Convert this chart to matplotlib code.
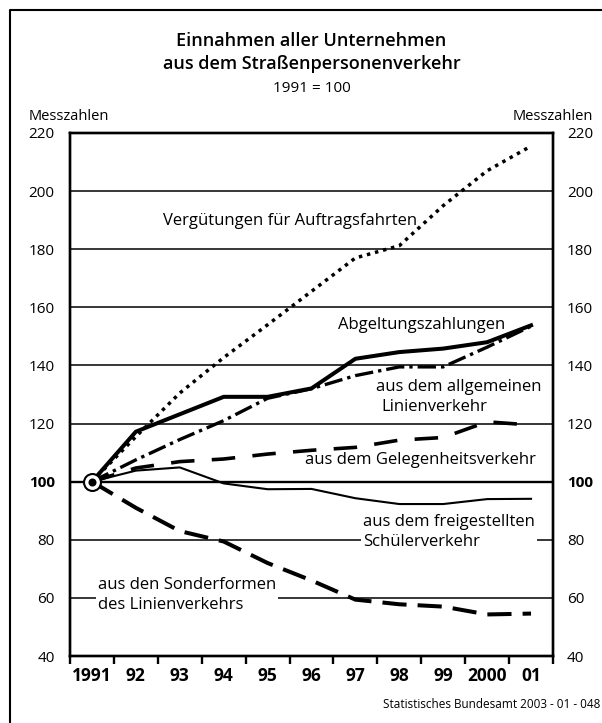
import matplotlib
matplotlib.use('Agg')
import matplotlib.pyplot as plt
from matplotlib.lines import Line2D

plt.rcParams['font.family'] = ['Open Sans', 'DejaVu Sans']

# ---------------- data ----------------
years = ['1991', '92', '93', '94', '95', '96', '97', '98', '99', '2000', '01']
verguetungen = [100, 115.5, 130.5, 142.7, 154, 165.5, 177, 181.2, 195, 207, 215.5]
abgeltung = [100, 117.2, 123.2, 129.2, 129.2, 132.1, 142.3, 144.6, 145.8, 148, 153.8]
allgemein = [100, 107.5, 114.5, 121, 128.7, 132, 136.5, 139.5, 139.5, 146.3, 153.5]
gelegenheit = [100, 104.7, 106.9, 107.8, 109.5, 110.8, 111.8, 114.3, 115.2, 120.6, 119.5]
schueler = [100, 103.8, 104.9, 99.4, 97.4, 97.5, 94.3, 92.3, 92.3, 94, 94.1]
sonderformen = [100, 91, 83, 79.4, 72, 66, 59.4, 57.8, 57, 54.3, 54.6]
yticks = [40, 60, 80, 100, 120, 140, 160, 180, 200, 220]

# ---------------- figure ----------------
W, H = 602, 723
fig = plt.figure(figsize=(W / 100, H / 100), dpi=100)
L, R, T, B = 70, 553, 133, 656
ax = fig.add_axes([L / W, 1 - B / H, (R - L) / W, (B - T) / H])
ax.set_xlim(-0.5, 10.5)
ax.set_ylim(40, 220)

def px2data(px, py):
    xd = -0.5 + (px - L) / (R - L) * 11
    yd = 40 + (B - py) / (B - T) * 180
    return xd, yd

for v in yticks[1:-1]:
    ax.axhline(v, color='black', lw=1.7 if v == 100 else 1.1, zorder=1)

for s in ax.spines.values():
    s.set_linewidth(1.7)

x = list(range(len(years)))
ax.plot(x, verguetungen, color='black', lw=2.5, linestyle=(0, (1, 1.4)), zorder=4)
ax.plot(x, abgeltung, color='black', lw=2.9, solid_joinstyle='miter', zorder=4)
ax.plot(x, allgemein, color='black', lw=2.4, linestyle=(0, (5.5, 1.5, 1, 1.5)), zorder=4)
ax.plot(x, gelegenheit, color='black', lw=2.6, linestyle=(0, (6.5, 4.8)), zorder=4)
ax.plot(x, schueler, color='black', lw=1.5, zorder=4)
ax.plot(x, sonderformen, color='black', lw=2.9, linestyle=(0, (6, 2.75)), zorder=4)

# start marker
ax.plot([x[0]], [abgeltung[0]], marker='o', ms=12.2, mfc='white', mec='black', mew=1.5, zorder=6)
ax.plot([x[0]], [abgeltung[0]], marker='o', ms=5.8, mfc='black', mec='black', mew=0, zorder=7)

# x axis
ax.set_xticks(x)
ax.set_xticklabels(years, fontsize=12.5, fontweight='bold')
ax.set_xticks([i - 0.5 for i in range(len(years) + 1)], minor=True)
ax.tick_params(axis='x', which='major', length=0, pad=8)
ax.tick_params(axis='x', which='minor', length=6, width=1.7, direction='out')

# y axes
ax.set_yticks(yticks)
ax.set_yticklabels([str(v) for v in yticks], fontsize=11)
ax.tick_params(axis='y', length=0, pad=11)
ax2 = ax.twinx()
ax2.set_ylim(40, 220)
ax2.set_yticks(yticks)
ax2.set_yticklabels([str(v) for v in yticks], fontsize=11)
ax2.tick_params(axis='y', length=0, pad=10)
for s in ax2.spines.values():
    s.set_linewidth(1.7)
for lab in ax.get_yticklabels() + ax2.get_yticklabels():
    if lab.get_text() == '100':
        lab.set_fontweight('bold')

# annotations
fs = 12
def label(px, py, txt, box=False, **kw):
    xd, yd = px2data(px, py)
    bb = dict(facecolor='white', edgecolor='none', pad=1.5) if box else None
    ax.text(xd, yd, txt, ha='left', va='center', fontsize=fs, bbox=bb, zorder=3, **kw)

label(163, 221, 'Vergütungen für Auftragsfahrten')
label(338, 325, 'Abgeltungszahlungen')
label(376, 387, 'aus dem allgemeinen')
label(381, 407, 'Linienverkehr')
label(305, 460, 'aus dem Gelegenheitsverkehr')
label(363, 532, 'aus dem freigestellten\nSchülerverkehr', box=True, linespacing=1.3)
label(98, 595, 'aus den Sonderformen\ndes Linienverkehrs', box=True, linespacing=1.3)

# titles and texts
fig.text(311.5 / W, 1 - 41 / H, 'Einnahmen aller Unternehmen', ha='center', va='center',
         fontsize=13, fontweight='semibold')
fig.text(311.5 / W, 1 - 64 / H, 'aus dem Straßenpersonenverkehr', ha='center', va='center',
         fontsize=13, fontweight='semibold')
fig.text(311.5 / W, 1 - 88 / H, '1991 = 100', ha='center', va='center', fontsize=11)
fig.text(29 / W, 1 - 117 / H, 'Messzahlen', ha='left', va='center', fontsize=10.5)
fig.text(593 / W, 1 - 117 / H, 'Messzahlen', ha='right', va='center', fontsize=10.5)
fig.text(600 / W, 1 - 704 / H, 'Statistisches Bundesamt 2003 - 01 - 048', ha='right',
         va='center', fontsize=8.5)

fig.add_artist(Line2D([10 / W, 10 / W, 1.0], [0, 1 - 10 / H, 1 - 10 / H],
                      transform=fig.transFigure, color='black', lw=1.5))

fig.savefig('out.png', dpi=100)
